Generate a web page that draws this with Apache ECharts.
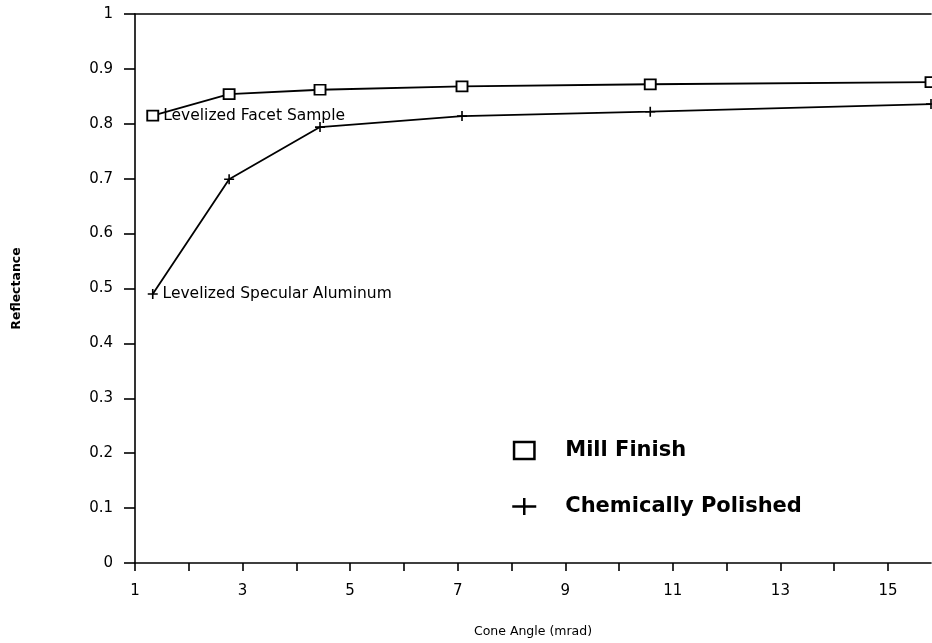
<!DOCTYPE html>
<html>
<head>
<meta charset="utf-8">
<script src="https://cdn.jsdelivr.net/npm/echarts@6/dist/echarts.min.js"></script>
<style>html,body{margin:0;padding:0;background:#fff}#c{width:932px;height:643px}</style>
</head>
<body>
<div id="c"></div>
<script>
// Data
var coneAngle = [1.33, 2.75, 4.44, 7.08, 10.58, 15.8];
var millFinish = [0.815, 0.854, 0.862, 0.868, 0.872, 0.876];
var chemPolished = [0.49, 0.699, 0.794, 0.814, 0.822, 0.836];
var seriesNames = ['Mill Finish', 'Chemically Polished'];
var annotations = ['Levelized Facet Sample', 'Levelized Specular Aluminum'];
var xTickLabels = ['1', '3', '5', '7', '9', '11', '13', '15'];
var yTickLabels = ['0', '0.1', '0.2', '0.3', '0.4', '0.5', '0.6', '0.7', '0.8', '0.9', '1'];

function pairs(xs, ys, label) {
  return xs.map(function (x, i) {
    var d = { value: [x, ys[i]] };
    if (i === 0) {
      d.label = { show: true, position: 'right', distance: 4, formatter: label,
        fontFamily: 'DejaVu Sans', fontSize: 15.5, color: '#000' };
    }
    return d;
  });
}

var font = 'DejaVu Sans';
var chart = echarts.init(document.getElementById('c'), null, { renderer: 'canvas' });
chart.setOption({
  animation: false,
  backgroundColor: '#fff',
  grid: { left: 135, right: 1, top: 14, bottom: 78, containLabel: false },
  xAxis: [{
    type: 'value', min: 1, max: 15.8, interval: 1,
    name: 'Cone Angle (mrad)', nameLocation: 'middle', nameGap: 62,
    nameTextStyle: { fontFamily: font, fontSize: 12.5, color: '#000' },
    axisLine: { show: true, onZero: false, lineStyle: { color: '#000', width: 1.6 } },
    axisTick: { show: true, length: 8, inside: false, lineStyle: { color: '#000', width: 1.6 } },
    axisLabel: { color: '#000', fontFamily: font, fontSize: 15, margin: 21, showMaxLabel: false,
      formatter: function (v) { var s = String(Math.round(v * 100) / 100); return xTickLabels.indexOf(s) >= 0 ? s : ''; } },
    splitLine: { show: false }
  }, {
    type: 'value', min: 1, max: 15.8, position: 'top',
    axisLine: { show: true, onZero: false, lineStyle: { color: '#000', width: 1.6 } },
    axisTick: { show: false }, axisLabel: { show: false }, splitLine: { show: false }
  }],
  yAxis: {
    type: 'value', min: 0, max: 1, interval: 0.1,
    name: 'Reflectance', nameLocation: 'middle', nameGap: 112, nameRotate: 90,
    nameTextStyle: { fontFamily: font, fontSize: 12.5, fontWeight: 'bold', color: '#000' },
    axisLine: { show: true, onZero: false, lineStyle: { color: '#000', width: 1.6 } },
    axisTick: { show: true, length: 11, lineStyle: { color: '#000', width: 1.6 } },
    axisLabel: { color: '#000', fontFamily: font, fontSize: 15, margin: 22,
      formatter: function (v) { return yTickLabels[Math.round(v * 10)]; } },
    splitLine: { show: false }
  },
  legend: {
    orient: 'vertical', left: 506, top: 435, itemGap: 35,
    itemWidth: 72, itemHeight: 17, symbolKeepAspect: true,
    data: [
      { name: seriesNames[0], icon: 'path://M0,0H18V15H0Z' },
      { name: seriesNames[1], icon: 'path://M0,8.5H24M12,0V17' }
    ],
    itemStyle: { borderWidth: 2.5, color: '#fff', borderColor: '#000' },
    textStyle: { fontFamily: font, fontSize: 21, fontWeight: 'bold', color: '#000' }
  },
  series: [{
    name: seriesNames[0], type: 'line',
    data: pairs(coneAngle, millFinish, annotations[0]),
    symbol: 'rect', symbolSize: [11, 10], showAllSymbol: true,
    lineStyle: { color: '#000', width: 1.8 },
    itemStyle: { color: '#fff', borderColor: '#000', borderWidth: 1.8 },
    clip: false
  }, {
    name: seriesNames[1], type: 'line',
    data: pairs(coneAngle, chemPolished, annotations[1]),
    symbol: 'path://M0,5H10M5,0V10', symbolSize: 10, showAllSymbol: true,
    lineStyle: { color: '#000', width: 1.8 },
    itemStyle: { color: '#fff', borderColor: '#000', borderWidth: 1.6 },
    clip: false
  }]
});
</script>
</body>
</html>
